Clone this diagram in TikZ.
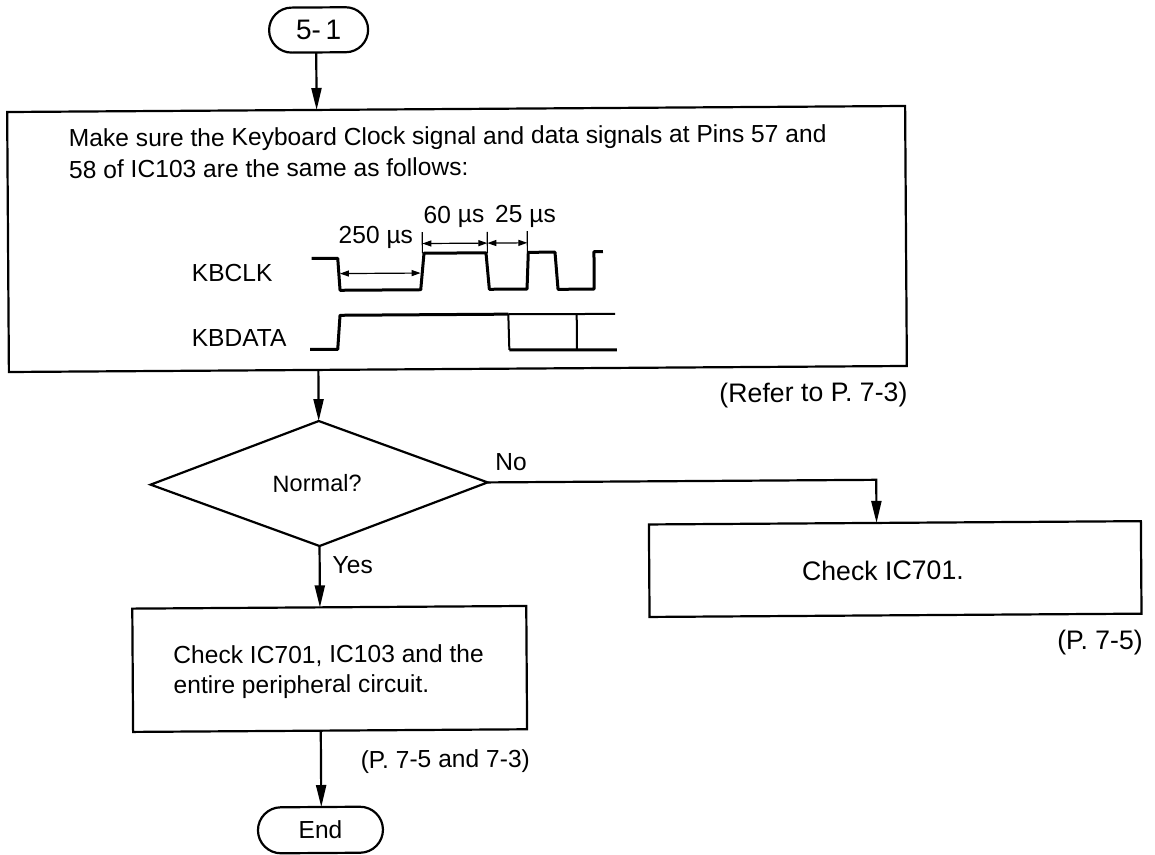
\documentclass[tikz,border=0pt]{standalone}
\usepackage{fontspec}
\setmainfont{Liberation Sans}
\usetikzlibrary{arrows.meta,shapes.geometric,shapes.misc}
\begin{document}
\begin{tikzpicture}[>={Stealth[length=2.2mm,width=1mm,inset=0pt]},font=\fontsize{7pt}{8pt}\selectfont,line width=0.22mm,
  flowbox/.style={draw,rectangle,inner sep=0pt,outer sep=0pt},
  pill/.style={draw,rounded rectangle,inner sep=0pt,outer sep=0pt},
  lab/.style={inner sep=0pt,anchor=base west},
  labmid/.style={inner sep=0pt,anchor=base},
  biglab/.style={labmid,font=\fontsize{7.6pt}{8pt}\selectfont},
  wave/.style={line width=0.3mm,line join=round},
  thinwave/.style={line width=0.2mm},
  dim/.style={line width=0.12mm,{Stealth[length=0.9mm,width=0.6mm,inset=0pt]}-{Stealth[length=0.9mm,width=0.6mm,inset=0pt]}}]
\useasboundingbox (0,0) rectangle (11.55,8.54);
\begin{scope}[rotate around={0.384:(4.57,6.15)},transform shape]
\node[pill,minimum width=0.99cm,minimum height=0.45cm,font=\fontsize{8pt}{9pt}\selectfont] (start) at (3.20,8.25) {5-\,1};
\node[flowbox,minimum width=8.98cm,minimum height=2.60cm] (signals) at (4.57,6.15) {};
\node[lab] (line1) at (0.685,7.096) {Make sure the Keyboard Clock signal and data signals at Pins 57 and};
\node[lab] (line2) at (0.685,6.783) {58 of IC103 are the same as follows:};
\node[lab] (kbclk) at (1.905,5.741) {KBCLK};
\node[lab] (kbdata) at (1.90,5.091) {KBDATA};
\node[labmid] (t250) at (3.758,6.112) {250 µs};
\node[labmid] (t60) at (4.541,6.31) {60 µs};
\node[labmid] (t25) at (5.256,6.31) {25 µs};
\draw[wave] (3.116,5.965) -- (3.376,5.965) -- (3.397,5.645) -- (4.204,5.645) -- (4.239,6.01) -- (4.859,6.01) -- (4.89,5.645) -- (5.267,5.645) -- (5.282,6.012) -- (5.549,6.012) -- (5.577,5.64) -- (5.937,5.64) -- (5.939,6.015) -- (6.029,6.015);
\draw[wave] (3.094,5.055) -- (3.37,5.055) -- (3.395,5.395) -- (5.078,5.395);
\draw[thinwave] (5.078,5.395) -- (6.145,5.39);
\draw[thinwave] (5.078,5.395) -- (5.086,5.037);
\draw[wave] (5.086,5.037) -- (6.16,5.03);
\draw[thinwave] (5.762,5.39) -- (5.762,5.033);
\draw[line width=0.12mm] (4.223,6.22) -- (4.223,6.01);
\draw[line width=0.12mm] (4.873,6.22) -- (4.873,6.01);
\draw[line width=0.12mm] (5.273,6.225) -- (5.273,6.012);
\draw[dim] (3.397,5.812) -- (4.204,5.812);
\draw[dim] (4.223,6.107) -- (4.873,6.107);
\draw[dim] (4.873,6.107) -- (5.273,6.107);
\node[biglab] (refer) at (8.124,4.499) {(Refer to P. 7-3)};
\node[draw,diamond,aspect=2.69,minimum width=3.37cm,minimum height=1.25cm,inner sep=0pt,outer sep=0pt] (normal) at (3.175,3.714) {};
\node[labmid,font=\fontsize{6.7pt}{8pt}\selectfont] (normaltxt) at (3.155,3.632) {Normal?};
\node[labmid] (no) at (5.095,3.83) {No};
\node[labmid] (yes) at (3.505,2.814) {Yes};
\node[flowbox,minimum width=4.92cm,minimum height=0.925cm] (checkic) at (8.93,2.82) {};
\coordinate (checktop) at (8.747,3.2825);
\node[biglab] (checktxt) at (8.807,2.711) {Check IC701.};
\node[biglab] (p75) at (10.973,2.004) {(P. 7-5)};
\node[flowbox,minimum width=3.94cm,minimum height=1.233cm] (checkall) at (3.268,1.859) {};
\node[lab] (all1) at (1.695,1.919) {Check IC701, IC103 and the};
\node[lab] (all2) at (1.695,1.619) {entire peripheral circuit.};
\node[labmid] (p753) at (4.418,0.864) {(P. 7-5 and 7-3)};
\node[pill,minimum width=1.25cm,minimum height=0.46cm] (finish) at (3.165,0.249) {End};
\draw[->] (normal.north |- start.south) -- (normal.north |- signals.north);
\draw[->] (normal.north |- signals.south) -- (normal.north);
\draw[->] (normal.east) -| (checktop);
\draw[->] (normal.south) -- (normal.south |- checkall.north);
\draw[->] (normal.south |- checkall.south) -- (normal.south |- finish.north);
\end{scope}
\end{tikzpicture}
\end{document}
